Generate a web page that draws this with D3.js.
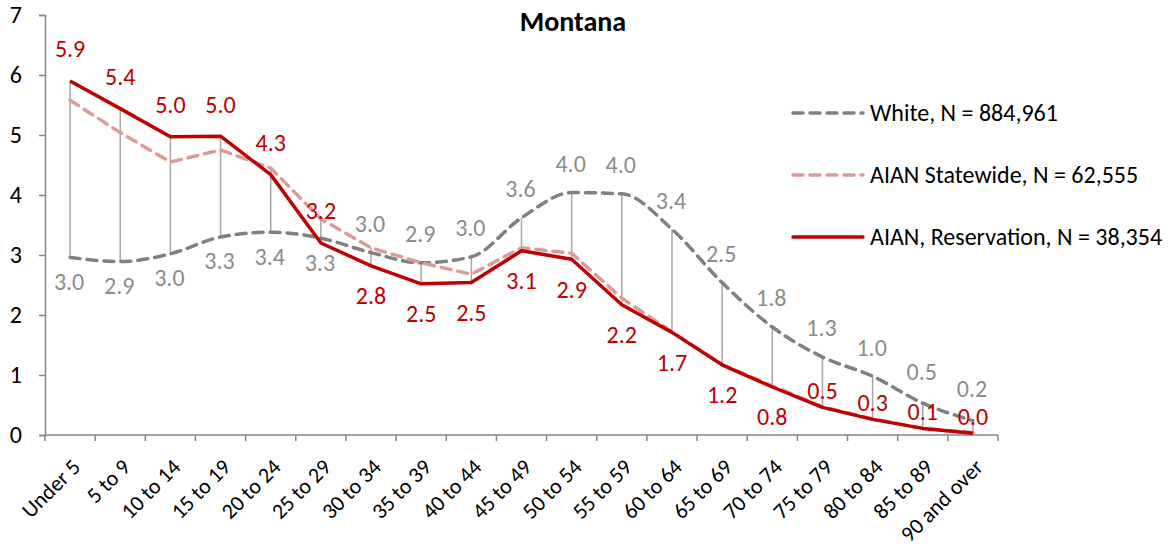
<!DOCTYPE html>
<html>
<head>
<meta charset="utf-8">
<script src="https://cdn.jsdelivr.net/npm/d3@7"></script>
<style>
  body { margin: 0; background: #fff; }
  text { font-family: Carlito, Calibri, "Open Sans", sans-serif; }
</style>
</head>
<body>
<script>
"use strict";

// age groups along the x axis
var ages = ["Under 5", "5 to 9", "10 to 14", "15 to 19", "20 to 24", "25 to 29", "30 to 34",
  "35 to 39", "40 to 44", "45 to 49", "50 to 54", "55 to 59", "60 to 64", "65 to 69",
  "70 to 74", "75 to 79", "80 to 84", "85 to 89", "90 and over"];

// percent of population in each age group
var white = [2.96, 2.89, 3.02, 3.3, 3.38, 3.28, 3.04, 2.87, 2.97, 3.62, 4.04, 4.02, 3.43, 2.54, 1.8, 1.3, 0.98, 0.53, 0.24];
var statewide = [5.58, 5.04, 4.55, 4.75, 4.45, 3.6, 3.12, 2.87, 2.68, 3.12, 3.03, 2.28, 1.72, 1.17, 0.82, 0.47, 0.27, 0.11, 0.04];
var reservation = [5.9, 5.44, 4.97, 4.98, 4.34, 3.2, 2.82, 2.52, 2.54, 3.07, 2.93, 2.17, 1.71, 1.17, 0.8, 0.46, 0.26, 0.11, 0.03];

var yTicks = [0, 1, 2, 3, 4, 5, 6, 7];
var legendNames = ["White, N = 884,961", "AIAN Statewide, N = 62,555", "AIAN, Reservation, N = 38,354"];

var width = 1170, height = 548;
var margin = {top: 15, left: 45, right: 172, bottom: 113};
var fontSize = 24;

var svg = d3.select("body").append("svg")
  .attr("width", width)
  .attr("height", height);

var x = d3.scaleBand()
  .domain(ages)
  .range([margin.left, width - margin.right]);

var y = d3.scaleLinear()
  .domain([0, 7])
  .range([height - margin.bottom, margin.top]);

function cx(i) { return x(ages[i]) + x.bandwidth() / 2; }

var axisColor = "#868686";

// y axis
var yAxis = svg.append("g")
  .attr("transform", "translate(" + margin.left + ",0)")
  .call(d3.axisLeft(y).tickValues(yTicks).tickSize(6).tickPadding(17).tickFormat(d3.format("d")));
yAxis.select(".domain").attr("stroke", axisColor).attr("stroke-width", 1.5);
yAxis.selectAll(".tick line").attr("stroke", axisColor).attr("stroke-width", 1.5);
yAxis.selectAll(".tick text").attr("font-size", fontSize).attr("fill", "#000");

// x axis, ticks on band boundaries
var xAxis = svg.append("g")
  .attr("transform", "translate(0," + y(0) + ")");
xAxis.append("line")
  .attr("x1", margin.left).attr("x2", width - margin.right)
  .attr("stroke", axisColor).attr("stroke-width", 1.5);
xAxis.selectAll(".xt")
  .data(d3.range(ages.length + 1))
  .enter().append("line")
  .attr("x1", function(i) { return margin.left + i * x.bandwidth(); })
  .attr("x2", function(i) { return margin.left + i * x.bandwidth(); })
  .attr("y1", 0).attr("y2", 6)
  .attr("stroke", axisColor).attr("stroke-width", 1.5);
xAxis.selectAll(".xl")
  .data(ages)
  .enter().append("text")
  .attr("text-anchor", "end")
  .attr("font-size", 22)
  .attr("transform", function(d, i) { return "translate(" + (cx(i) + 6) + ",28) rotate(-45)"; })
  .attr("dy", "0.35em")
  .text(function(d) { return d; });

// high-low lines
svg.append("g").selectAll("line")
  .data(ages)
  .enter().append("line")
  .attr("x1", function(d, i) { return cx(i); })
  .attr("x2", function(d, i) { return cx(i); })
  .attr("y1", function(d, i) { return y(Math.max(white[i], statewide[i], reservation[i])); })
  .attr("y2", function(d, i) { return y(Math.min(white[i], statewide[i], reservation[i])); })
  .attr("stroke", "#a6a6a6")
  .attr("stroke-width", 1.5);

var series = [
  {values: white, color: "#808080", dash: "10,7", curve: d3.curveMonotoneX},
  {values: statewide, color: "#dc9a98", dash: "10,7", curve: d3.curveLinear},
  {values: reservation, color: "#c00000", dash: null, curve: d3.curveLinear}
];

series.forEach(function(s) {
  var line = d3.line()
    .x(function(d, i) { return cx(i); })
    .y(function(d) { return y(d); })
    .curve(s.curve);
  svg.append("path")
    .datum(s.values)
    .attr("d", line)
    .attr("fill", "none")
    .attr("stroke", s.color)
    .attr("stroke-width", 3.5)
    .attr("stroke-linecap", s.dash ? "round" : "butt")
    .attr("stroke-linejoin", "round")
    .attr("stroke-dasharray", s.dash);
});

// data labels: white below for first six groups, above afterwards
svg.append("g").selectAll("text")
  .data(white)
  .enter().append("text")
  .attr("x", function(d, i) { return cx(i) - 1; })
  .attr("y", function(d, i) {
    if (i < 6) return y(d) + 24;
    if (i > 16) return y(d) - 32;
    return y(d) - 29;
  })
  .attr("dy", "0.35em")
  .attr("text-anchor", "middle")
  .attr("font-size", fontSize)
  .attr("fill", "#8c8c8c")
  .text(function(d) { return d.toFixed(1); });

// reservation labels above at both ends, below in the middle
svg.append("g").selectAll("text")
  .data(reservation)
  .enter().append("text")
  .attr("x", function(d, i) { return cx(i); })
  .attr("y", function(d, i) {
    if (i < 6) return y(d) - 32;
    if (i > 14) return y(d) - 17;
    return y(d) + 30;
  })
  .attr("dy", "0.35em")
  .attr("text-anchor", "middle")
  .attr("font-size", fontSize)
  .attr("fill", "#c00000")
  .text(function(d) { return d.toFixed(1); });

// title
svg.append("text")
  .attr("x", 573)
  .attr("y", 31)
  .attr("text-anchor", "middle")
  .attr("font-size", 28)
  .attr("font-weight", "bold")
  .text("Montana");

// legend
var legend = svg.append("g").selectAll("g")
  .data(series)
  .enter().append("g")
  .attr("transform", function(d, i) { return "translate(793," + (113 + i * 62) + ")"; });
legend.append("line")
  .attr("x1", 0).attr("x2", 70)
  .attr("stroke", function(d) { return d.color; })
  .attr("stroke-width", 3.5)
  .attr("stroke-linecap", "round")
  .attr("stroke-dasharray", function(d) { return d.dash; });
legend.append("text")
  .attr("x", 77)
  .attr("dy", "0.35em")
  .attr("font-size", fontSize)
  .text(function(d, i) { return legendNames[i]; });
</script>
</body>
</html>
